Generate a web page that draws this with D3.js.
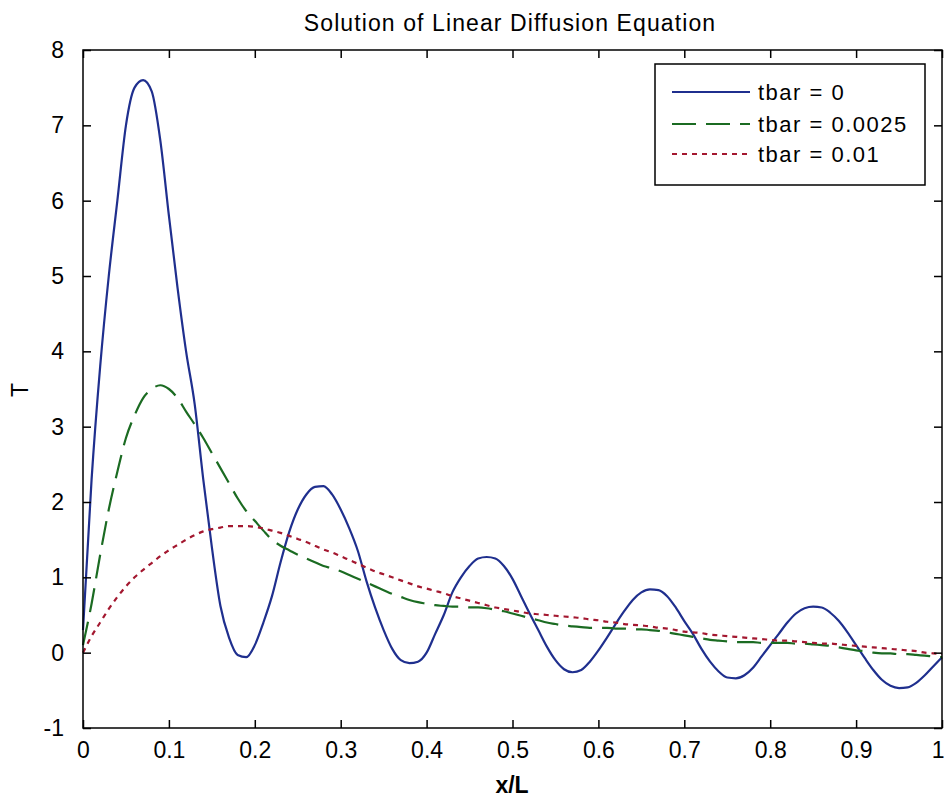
<!DOCTYPE html>
<html><head><meta charset="utf-8">
<script src="https://cdn.jsdelivr.net/npm/d3@7"></script>
<style>
html,body{margin:0;padding:0;background:#fff;}
svg{display:block;}
text{font-family:"Liberation Sans",Arial,sans-serif;fill:#000;}
</style></head>
<body>
<svg id="chart" width="944" height="799"></svg>
<script>
const xs = d3.range(0, 101).map(i => i / 100);
const tbar0 = [0.3,2.3,3.8,5.0,6.0,7.0,7.5,7.6,7.45,6.8,5.8,4.85,4.0,3.3,2.3,1.4,0.62,0.2,-0.03,-0.06,
  0.1,0.4,0.75,1.2,1.6,1.9,2.1,2.2,2.21,2.1,1.9,1.65,1.35,0.95,0.6,0.3,0.05,-0.1,-0.14,-0.12,
  0.0,0.25,0.5,0.8,1.0,1.15,1.25,1.27,1.25,1.15,0.98,0.75,0.52,0.3,0.08,-0.1,-0.22,-0.26,-0.23,-0.12,
  0.03,0.2,0.38,0.55,0.7,0.8,0.84,0.83,0.75,0.6,0.42,0.25,0.05,-0.12,-0.25,-0.33,-0.34,-0.3,-0.2,-0.05,
  0.1,0.25,0.4,0.52,0.59,0.61,0.6,0.53,0.42,0.27,0.1,-0.07,-0.23,-0.36,-0.44,-0.47,-0.46,-0.4,-0.3,-0.18,-0.06];
const tbar0025 = [0.1,0.65,1.3,1.9,2.4,2.85,3.15,3.38,3.5,3.55,3.5,3.38,3.2,3.03,2.85,2.65,2.45,2.25,2.05,1.88,
  1.75,1.62,1.5,1.42,1.36,1.3,1.25,1.2,1.15,1.12,1.08,1.03,0.98,0.93,0.88,0.83,0.78,0.74,0.7,0.67,
  0.65,0.63,0.62,0.61,0.61,0.6,0.6,0.59,0.57,0.55,0.52,0.49,0.46,0.43,0.4,0.38,0.36,0.35,0.34,0.33,
  0.33,0.33,0.32,0.32,0.31,0.31,0.3,0.29,0.27,0.25,0.23,0.21,0.19,0.17,0.16,0.15,0.14,0.14,0.14,0.13,
  0.13,0.13,0.13,0.12,0.12,0.11,0.1,0.09,0.07,0.05,0.03,0.02,0.0,-0.01,-0.01,-0.02,-0.02,-0.03,-0.04,-0.05,-0.06];
const tbar01 = [0.0,0.22,0.4,0.58,0.74,0.88,1.0,1.1,1.19,1.28,1.36,1.43,1.5,1.56,1.61,1.64,1.66,1.68,1.68,1.68,
  1.67,1.65,1.62,1.59,1.55,1.51,1.47,1.42,1.37,1.33,1.28,1.23,1.18,1.13,1.08,1.04,1.0,0.96,0.92,0.88,
  0.85,0.82,0.79,0.75,0.72,0.69,0.66,0.63,0.6,0.58,0.56,0.54,0.52,0.51,0.5,0.49,0.48,0.47,0.46,0.44,
  0.43,0.41,0.4,0.38,0.37,0.36,0.35,0.33,0.32,0.3,0.28,0.27,0.26,0.24,0.23,0.22,0.21,0.2,0.19,0.18,
  0.17,0.16,0.16,0.15,0.14,0.13,0.12,0.12,0.11,0.1,0.09,0.08,0.07,0.06,0.05,0.04,0.03,0.02,0.0,-0.01,-0.02];
const seriesNames = ["tbar = 0", "tbar = 0.0025", "tbar = 0.01"];
const xTicks = [0,0.1,0.2,0.3,0.4,0.5,0.6,0.7,0.8,0.9,1];
const yTicks = [-1,0,1,2,3,4,5,6,7,8];

const series = [
  {name: seriesNames[0], values: tbar0, color: "#1f2f8e", dash: null},
  {name: seriesNames[1], values: tbar0025, color: "#1b6b22", dash: "24,10"},
  {name: seriesNames[2], values: tbar01, color: "#a3172f", dash: "5,5"}
];

const svg = d3.select("#chart");
const L = 83, R = 942, T = 50, B = 728;
const x = d3.scaleLinear().domain([0,1]).range([L,R]);
const y = d3.scaleLinear().domain([-1,8]).range([B,T]);

const line = d3.line().x((d,i)=>x(xs[i])).y(d=>y(d)).curve(d3.curveMonotoneX);

const g = svg.append("g");
series.forEach(s=>{
  g.append("path").attr("d", line(s.values)).attr("fill","none")
   .attr("stroke", s.color).attr("stroke-width", 2.2)
   .attr("stroke-dasharray", s.dash);
});

// axes
const tickLen = 8;
const fmt = d => String(d);
const axB = svg.append("g").attr("transform",`translate(0,${B})`)
  .call(d3.axisBottom(x).tickValues(xTicks).tickSize(-tickLen).tickPadding(14+tickLen).tickFormat(fmt));
const axT = svg.append("g").attr("transform",`translate(0,${T})`)
  .call(d3.axisTop(x).tickValues(xTicks).tickSize(-tickLen).tickFormat(""));
const axL = svg.append("g").attr("transform",`translate(${L},0)`)
  .call(d3.axisLeft(y).tickValues(yTicks).tickSize(-tickLen).tickPadding(11+tickLen).tickFormat(fmt));
const axR = svg.append("g").attr("transform",`translate(${R},0)`)
  .call(d3.axisRight(y).tickValues(yTicks).tickSize(-tickLen).tickFormat(""));
[axB,axT,axL,axR].forEach(a=>{
  a.select(".domain").remove();
  a.selectAll("line").attr("stroke","#000").attr("stroke-width",1.5);
  a.selectAll("text").style("font-family",'"Liberation Sans",Arial,sans-serif').style("font-size","23px").attr("fill","#000");
});
axB.selectAll("text").attr("dy","0.71em").attr("y", 14)
  .attr("text-anchor", d => d === 1 ? "end" : "middle")
  .attr("dx", d => d === 1 ? "2" : "0");
svg.append("rect").attr("x",L).attr("y",T).attr("width",R-L).attr("height",B-T)
  .attr("fill","none").attr("stroke","#000").attr("stroke-width",1.5);

// title & labels
svg.append("text").attr("x",(303+717)/2).attr("y",31).attr("text-anchor","middle")
  .style("font-size","23px").style("letter-spacing","1.1px").text("Solution of Linear Diffusion Equation");
svg.append("text").attr("x",512).attr("y",793).attr("text-anchor","middle")
  .style("font-size","23px").style("font-weight","bold").text("x/L");
svg.append("text").attr("transform","translate(28,390) rotate(-90)").attr("text-anchor","middle")
  .style("font-size","23px").text("T");

// legend
const lg = svg.append("g");
lg.append("rect").attr("x",655).attr("y",64).attr("width",270).attr("height",121)
  .attr("fill","#fff").attr("stroke","#000").attr("stroke-width",1.5);
const rowY = [92,124,154];
series.forEach((s,i)=>{
  lg.append("line").attr("x1",672).attr("x2",750).attr("y1",rowY[i]).attr("y2",rowY[i])
    .attr("stroke",s.color).attr("stroke-width",2).attr("stroke-dasharray",s.dash);
  lg.append("text").attr("x",758).attr("y",rowY[i]).attr("dy","0.36em")
    .style("font-size","22px").style("letter-spacing","1.5px").text(s.name);
});
</script>
</body></html>
